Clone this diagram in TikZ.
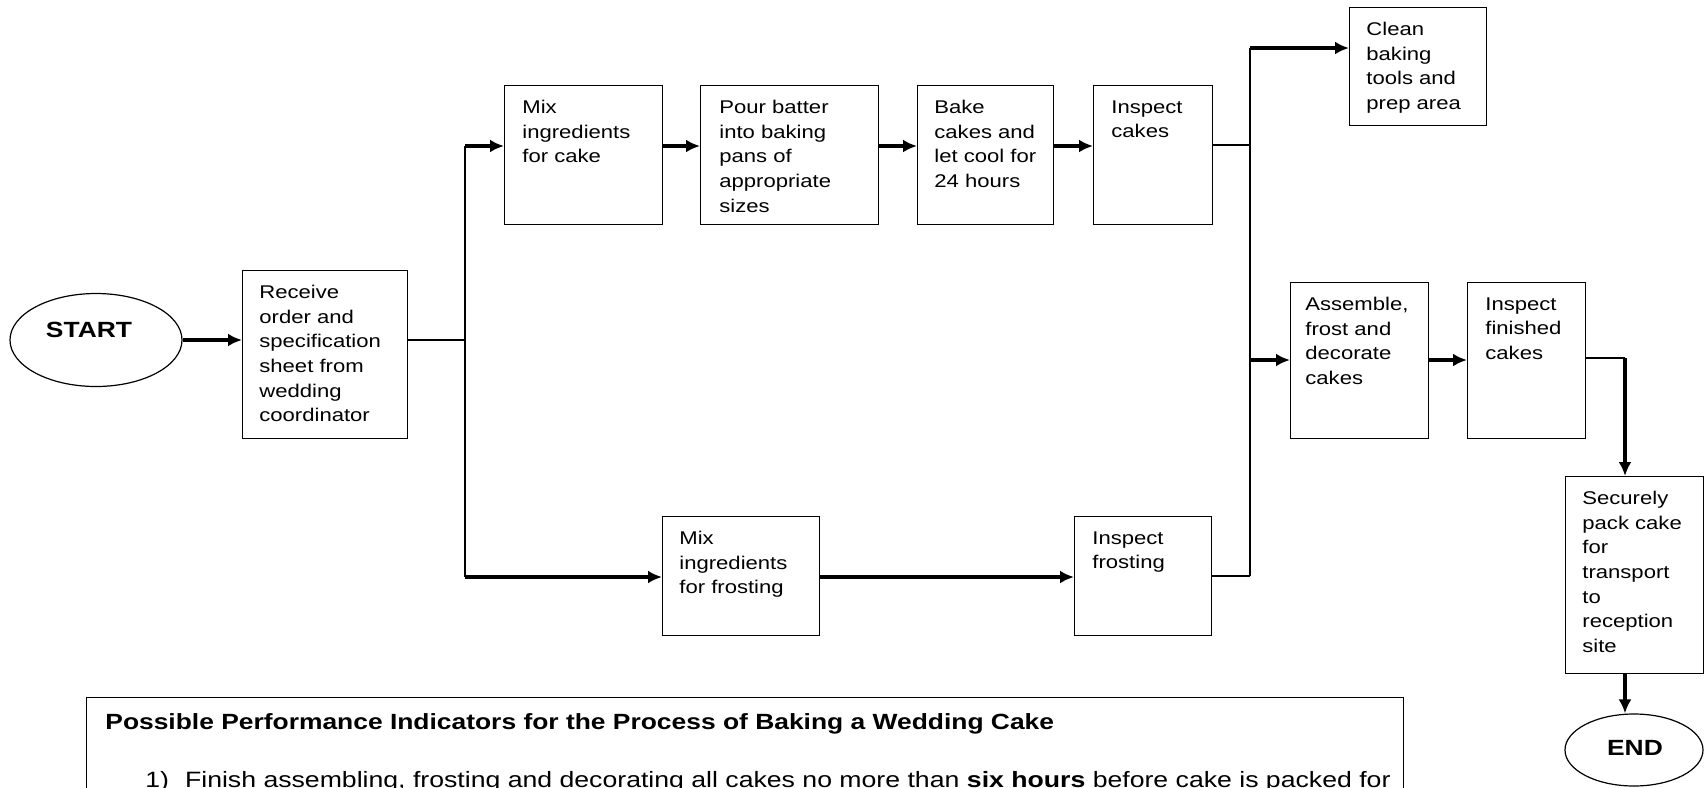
\documentclass[tikz,border=0pt]{standalone}
\usepackage{fontspec}
\setmainfont[FakeStretch=1.2]{Liberation Sans}
\usetikzlibrary{arrows.meta,shapes.geometric,calc}
\begin{document}
\begin{tikzpicture}[x=0.5pt,y=-0.5pt,
  box/.style={draw, line width=0.7pt, inner sep=0pt, anchor=north west},
  txt/.style={anchor=north west, inner sep=0pt, align=left, font=\fontsize{9.2}{12.3}\selectfont},
  thn/.style={line width=0.65pt},
  thk/.style={line width=1.7pt, -{Latex[length=7pt,width=6.5pt]}},
  oval/.style={draw, ellipse, line width=0.6pt, inner sep=0pt},
  bigtxt/.style={inner sep=0pt, font=\bfseries\fontsize{11}{13}\selectfont}
]
\clip (0,0) rectangle (1705,788);
\fill[white] (0,0) rectangle (1705,788);

% ovals
\node[oval, minimum width=86pt, minimum height=46.5pt] (start) at (96,340) {};
\node[bigtxt] (startT) at (89,330) {START};
\node[oval, minimum width=69pt, minimum height=36pt] (end) at (1634,750) {};
\node[bigtxt] (endT) at (1635,748) {END};

% boxes
\node[box, minimum width=82.5pt, minimum height=84pt] (recv) at (242,270) {};
\node[box, minimum width=79pt, minimum height=69.5pt] (mixc) at (504,85) {};
\node[box, minimum width=89pt, minimum height=69.5pt] (pour) at (700,85) {};
\node[box, minimum width=68pt, minimum height=69.5pt] (bake) at (917,85) {};
\node[box, minimum width=59.5pt, minimum height=69.5pt] (insc) at (1093,85) {};
\node[box, minimum width=68.5pt, minimum height=59pt] (clean) at (1349,7) {};
\node[box, minimum width=69pt, minimum height=78pt] (asm) at (1290,282) {};
\node[box, minimum width=59pt, minimum height=78pt] (insfin) at (1467,282) {};
\node[box, minimum width=69pt, minimum height=98.5pt] (secure) at (1565,476) {};
\node[box, minimum width=78.5pt, minimum height=59.5pt] (mixf) at (662,516) {};
\node[box, minimum width=68.5pt, minimum height=59.5pt] (insf) at (1074,516) {};
\node[box, minimum width=658.5pt, minimum height=100pt] (indic) at (86,697) {};

% box texts
\node[txt] (recvT) at ($(recv.north west)+(17,15)$) {Receive\\order and\\specification\\sheet from\\wedding\\coordinator};
\node[txt] (mixcT) at ($(mixc.north west)+(18,15)$) {Mix\\ingredients\\for cake};
\node[txt] (pourT) at ($(pour.north west)+(19,15)$) {Pour batter\\into baking\\pans of\\appropriate\\sizes};
\node[txt] (bakeT) at ($(bake.north west)+(17,15)$) {Bake\\cakes and\\let cool for\\24 hours};
\node[txt] (inscT) at ($(insc.north west)+(18,15)$) {Inspect\\cakes};
\node[txt] (cleanT) at ($(clean.north west)+(17,15)$) {Clean\\baking\\tools and\\prep area};
\node[txt] (asmT) at ($(asm.north west)+(15,15)$) {Assemble,\\frost and\\decorate\\cakes};
\node[txt] (insfinT) at ($(insfin.north west)+(18,15)$) {Inspect\\finished\\cakes};
\node[txt] (secureT) at ($(secure.north west)+(17,15)$) {Securely\\pack cake\\for\\transport\\to\\reception\\site};
\node[txt] (mixfT) at ($(mixf.north west)+(17,15)$) {Mix\\ingredients\\for frosting};
\node[txt] (insfT) at ($(insf.north west)+(18,15)$) {Inspect\\frosting};

% indicator texts
\node[bigtxt, anchor=base west] (indT) at (105,729) {Possible Performance Indicators for the Process of Baking a Wedding Cake};
\node[inner sep=0pt, anchor=base west, font=\fontsize{11.1}{13}\selectfont] (ind1) at (145,787) {1)\hspace{8pt}Finish assembling, frosting and decorating all cakes no more than \textbf{six hours} before cake is packed for};

% connectors
\coordinate (sT) at (465,146);
\coordinate (sB) at (465,577);
\coordinate (sM) at (465,340);
\draw[thk] (start.east) -- (start.east -| recv.west);
\draw[thn] (sM -| recv.east) -- (sM);
\draw[thn] (sT) -- (sB);
\draw[thk] (sT) -- (sT -| mixc.west);
\draw[thk] (sT -| mixc.east) -- (sT -| pour.west);
\draw[thk] (sT -| pour.east) -- (sT -| bake.west);
\draw[thk] (sT -| bake.east) -- (sT -| insc.west);
\draw[thk] (sB) -- (sB -| mixf.west);
\draw[thk] (sB -| mixf.east) -- (sB -| insf.west);

\coordinate (rT) at (1250,48);
\coordinate (rA) at (1250,145);
\coordinate (rM) at (1250,360);
\coordinate (rB) at (1250,576);
\draw[thn] (rA -| insc.east) -- (rA);
\draw[thn] (rB -| insf.east) -- (rB);
\draw[thn] (rT) -- (rB);
\draw[thk] (rT) -- (rT -| clean.west);
\draw[thk] (rM) -- (rM -| asm.west);
\draw[thk] (rM -| asm.east) -- (rM -| insfin.west);

\coordinate (dC) at (1625,358);
\draw[thn] (dC -| insfin.east) -- (dC);
\draw[thk] (dC) -- (dC |- secure.north);
\draw[thk] (dC |- secure.south) -- (dC |- end.north);
\end{tikzpicture}
\end{document}
